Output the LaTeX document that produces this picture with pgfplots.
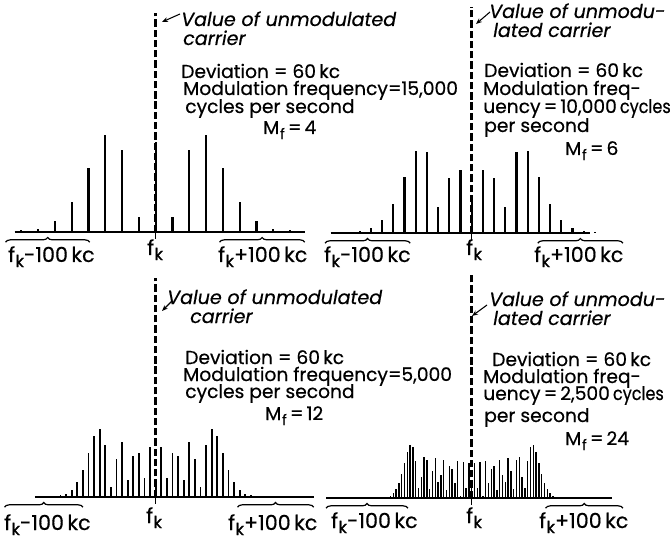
\documentclass[border=0pt]{standalone}
\usepackage{fontspec}
\setmainfont{Poppins}[FakeBold=0.5]
\usepackage{graphicx}
\usepackage{pgfplots}
\pgfplotsset{compat=1.18}
\usetikzlibrary{decorations.pathreplacing,arrows.meta}
\newcommand{\fk}{f\kern0.3pt\raisebox{-0.45ex}{\fontsize{12.5}{12.5}\selectfont k}}
\newcommand{\Mf}{M\kern0.5pt\raisebox{-0.5ex}{\fontsize{11}{11}\selectfont f}}
\newcommand{\vi}[1]{{\fontsize{14.3}{16}\selectfont\itshape #1}}
\newcommand{\lb}[1]{{\fontsize{15.5}{17}\selectfont #1}}

\begin{document}
\fontsize{14}{16}\selectfont
\begin{tikzpicture}[x=0.75pt,y=-0.75pt]
\path[use as bounding box] (0,0) rectangle (670,541);
\pgfplotsset{spec/.style={hide axis, clip=false, x=0.84pt, y=169.5pt,
  xmin=-140, xmax=140, ymin=0, ymax=1, anchor=origin}}
\tikzset{brc/.style={decorate, decoration={brace, amplitude=3.5pt}, line width=0.9pt},
  dsh/.style={line width=2pt, dash pattern=on 5.5pt off 2.2pt}}

% ---------- Panel 1: Mf = 4, fm = 15 kc
\begin{axis}[spec, at={(116.8pt,-174pt)}]
\addplot[ycomb, line width=1.7pt] coordinates {
(-120,0.008) (-105,0.015) (-90,0.049) (-75,0.132) (-60,0.281) (-45,0.430) (-30,0.364) (-15,0.066)
(0,0.397)
(15,0.066) (30,0.364) (45,0.430) (60,0.281) (75,0.132) (90,0.049) (105,0.015) (120,0.008)};
\addplot[line width=1pt] coordinates {(-126,0) (133,0)};
\addplot[line width=1pt] coordinates {(0,-0.03) (0,0)};
\addplot[dsh] coordinates {(0,0) (0,0.97)};
\draw[brc] (axis cs:-134,-0.045) -- (axis cs:-59,-0.045);
\draw[brc] (axis cs:57,-0.045) -- (axis cs:133,-0.045);
\end{axis}

% ---------- Panel 2: Mf = 6, fm = 10 kc
\begin{axis}[spec, at={(353.8pt,-174.75pt)}]
\addplot[ycomb, line width=1.7pt] coordinates {
(-110,0.006) (-100,0.010) (-90,0.021) (-80,0.057) (-70,0.130) (-60,0.246) (-50,0.362) (-40,0.358)
(-30,0.115) (-20,0.243) (-10,0.277)
(0,0.151)
(10,0.277) (20,0.243) (30,0.115) (40,0.358) (50,0.362) (60,0.246) (70,0.130) (80,0.057)
(90,0.021) (100,0.010) (110,0.006)};
\addplot[line width=1pt] coordinates {(-126,0) (106,0)};
\addplot[line width=1pt] coordinates {(0,-0.03) (0,0)};
\addplot[dsh] coordinates {(0,0) (0,1.0)};
\draw[brc] (axis cs:-131,-0.045) -- (axis cs:-55,-0.045);
\draw[brc] (axis cs:59,-0.045) -- (axis cs:135,-0.045);
\end{axis}

% ---------- Panel 3: Mf = 12, fm = 5 kc
\begin{axis}[spec, at={(116.8pt,-372.75pt)}]
\addplot[ycomb, line width=1.3pt] coordinates {
(-95,0.004) (-90,0.006) (-85,0.008) (-80,0.014) (-75,0.032) (-70,0.065) (-65,0.120) (-60,0.195)
(-55,0.270) (-50,0.300) (-45,0.230) (-40,0.045) (-35,0.170) (-30,0.244) (-25,0.074)
(-20,0.183) (-15,0.195) (-10,0.085) (-5,0.223)
(0,0.048)
(5,0.223) (10,0.085) (15,0.195) (20,0.183) (25,0.074) (30,0.244) (35,0.170) (40,0.045)
(45,0.230) (50,0.300) (55,0.270) (60,0.195) (65,0.120) (70,0.065) (75,0.032) (80,0.014)
(85,0.008) (90,0.006) (95,0.004)};
\addplot[line width=1pt] coordinates {(-108,0) (141,0)};
\addplot[line width=1pt] coordinates {(0,-0.03) (0,0)};
\addplot[dsh] coordinates {(0,0) (0,0.97)};
\draw[brc] (axis cs:-135,-0.045) -- (axis cs:-65,-0.045);
\draw[brc] (axis cs:73,-0.045) -- (axis cs:141,-0.045);
\end{axis}

% ---------- Panel 4: Mf = 24, fm = 2.5 kc
\begin{axis}[spec, at={(353.8pt,-373.5pt)}]
\addplot[ycomb, line width=1.1pt] coordinates {
(-80,0.002) (-77.5,0.003) (-75,0.006) (-72.5,0.011) (-70,0.022) (-67.5,0.040) (-65,0.068)
(-62.5,0.107) (-60,0.155) (-57.5,0.203) (-55,0.234) (-52.5,0.226) (-50,0.162) (-47.5,0.043)
(-45,0.093) (-42.5,0.183) (-40,0.166) (-37.5,0.039) (-35,0.118) (-32.5,0.176) (-30,0.073)
(-27.5,0.103) (-25,0.168) (-22.5,0.036) (-20,0.140) (-17.5,0.130) (-15,0.065) (-12.5,0.162)
(-10,0.010) (-7.5,0.161) (-5,0.043) (-2.5,0.154)
(0,0.056)
(2.5,0.154) (5,0.043) (7.5,0.161) (10,0.010) (12.5,0.162) (15,0.065) (17.5,0.130)
(20,0.140) (22.5,0.036) (25,0.168) (27.5,0.103) (30,0.073) (32.5,0.176) (35,0.118)
(37.5,0.039) (40,0.166) (42.5,0.183) (45,0.093) (47.5,0.043) (50,0.162) (52.5,0.226)
(55,0.234) (57.5,0.203) (60,0.155) (62.5,0.107) (65,0.068) (67.5,0.040) (70,0.022)
(72.5,0.011) (75,0.006) (77.5,0.003) (80,0.002)};
\addplot[line width=1pt] coordinates {(-130,0) (125,0)};
\addplot[line width=1pt] coordinates {(0,-0.03) (0,0)};
\addplot[dsh] coordinates {(0,0) (0,0.99)};
\draw[brc] (axis cs:-130,-0.045) -- (axis cs:-57,-0.045);
\draw[brc] (axis cs:66,-0.045) -- (axis cs:135,-0.045);
\end{axis}

% ---------- texts
\tikzset{t/.style={anchor=base west, inner sep=0pt}, ar/.style={-{Stealth[length=4.5pt,width=3.5pt]}, line width=0.8pt}}
% panel 1
\draw[ar] (180,14) -- (162,22);
\node[t] at (181,26) {\vi{Value of unmodulated}};
\node[t] at (183,45) {\vi{carrier}};
\node[t] at (181,78) {Deviation = 60\,kc};
\node[t] at (183,95) {Modulation frequency=15,000};
\node[t] at (185,113) {cycles per second};
\node[t] at (263,134) {\Mf\,=\,4};
\node[t] at (8,262) {\lb{\fk-100\,kc}};
\node[t] at (147,255) {\lb{\fk}};
\node[t] at (218,262) {\lb{\fk+100\,kc}};
% panel 2
\draw[ar] (490,12) -- (476,24);
\node[t] at (489,18) {\vi{Value of unmodu-}};
\node[t] at (493,37) {\vi{lated carrier}};
\node[t] at (484,77) {Deviation = 60\,kc};
\node[t] at (483,95) {Modulation freq-};
\node[t] at (483,113) {uency\,=\,10,000\,\scalebox{0.86}[1]{cycles}};
\node[t] at (484,132) {per second};
\node[t] at (565,155) {\Mf\,=\,6};
\node[t] at (324,262) {\lb{\fk-100\,kc}};
\node[t] at (466,255) {\lb{\fk}};
\node[t] at (534,262) {\lb{\fk+100\,kc}};
% panel 3
\draw[ar] (172,301) -- (162,311);
\node[t] at (167,304) {\vi{Value of unmodulated}};
\node[t] at (190,323) {\vi{carrier}};
\node[t] at (185,364) {Deviation = 60\,kc};
\node[t] at (183,381) {Modulation frequency=5,000};
\node[t] at (185,398) {cycles per second};
\node[t] at (265,420) {\Mf\,=\,12};
\node[t] at (4,530) {\lb{\fk-100\,kc}};
\node[t] at (146,523) {\lb{\fk}};
\node[t] at (228,530) {\lb{\fk+100\,kc}};
% panel 4
\draw[ar] (487,305) -- (472,316);
\node[t] at (489,306) {\vi{Value of unmodu-}};
\node[t] at (493,325) {\vi{lated carrier}};
\node[t] at (492,366) {Deviation = 60\,kc};
\node[t] at (483,383) {Modulation freq-};
\node[t] at (483,400) {uency\,=\,2,500\,\scalebox{0.86}[1]{cycles}};
\node[t] at (484,422) {per second};
\node[t] at (565,445) {\Mf\,=\,24};
\node[t] at (331,528) {\lb{\fk-100\,kc}};
\node[t] at (466,523) {\lb{\fk}};
\node[t] at (539,528) {\lb{\fk+100\,kc}};
\end{tikzpicture}
\end{document}
